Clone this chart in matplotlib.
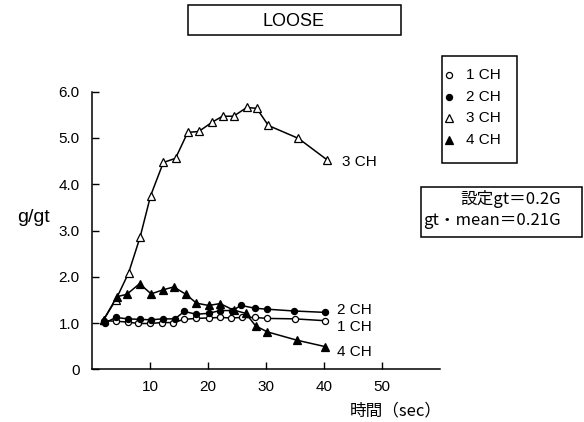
import matplotlib
matplotlib.use("Agg")
import matplotlib.pyplot as plt
from matplotlib.patches import Rectangle

plt.rcParams['font.family'] = ['Liberation Sans', 'Noto Sans CJK JP', 'DejaVu Sans']

# data
t_1ch = [2, 4.1, 6.2, 8.0, 10.0, 12.0, 14.0, 15.9, 18, 20.1, 22.1, 23.9, 25.9, 28.1, 30.2, 35.0, 40.2]
g_1ch = [1.05, 1.04, 1.02, 0.99, 0.99, 1.01, 1.01, 1.08, 1.10, 1.11, 1.12, 1.11, 1.12, 1.12, 1.10, 1.09, 1.05]
t_2ch = [2.2, 4.1, 6.2, 8.2, 10.1, 12.2, 14.3, 15.9, 18, 20.1, 22.1, 24.2, 25.7, 28.1, 30.1, 34.9, 40.2]
g_2ch = [1.0, 1.12, 1.09, 1.08, 1.07, 1.09, 1.09, 1.25, 1.19, 1.21, 1.27, 1.27, 1.38, 1.32, 1.30, 1.26, 1.23]
t_3ch = [2, 4.1, 6.3, 8.3, 10.1, 12.3, 14.4, 16.5, 18.4, 20.7, 22.5, 24.4, 26.7, 28.4, 30.4, 35.6, 40.5]
g_3ch = [1.07, 1.5, 2.08, 2.86, 3.75, 4.47, 4.56, 5.12, 5.14, 5.34, 5.47, 5.47, 5.66, 5.64, 5.27, 4.99, 4.53]
t_4ch = [2, 4.3, 6.0, 8.2, 10.2, 12.3, 14.1, 16.2, 18.0, 20.1, 22.1, 24.4, 26.5, 28.2, 30.2, 35.3, 40.2]
g_4ch = [1.07, 1.57, 1.62, 1.85, 1.63, 1.72, 1.78, 1.62, 1.43, 1.38, 1.42, 1.28, 1.21, 0.94, 0.81, 0.63, 0.49]

series_names = ["1 CH", "2 CH", "3 CH", "4 CH"]
x_ticks = [10, 20, 30, 40, 50]
y_ticks = [0, 1, 2, 3, 4, 5, 6]
y_tick_labels = ["0", "1.0", "2.0", "3.0", "4.0", "5.0", "6.0"]

W, H = 584, 422
fig = plt.figure(figsize=(W / 100, H / 100), dpi=100)
ax = fig.add_axes([92 / W, 1 - 369.3 / H, (440 - 92) / W, (369.3 - 91.7) / H])

lw = 1.1
ax.plot(t_1ch, g_1ch, '-o', color='black', mfc='white', mec='black', ms=4.4, mew=0.9, lw=lw, zorder=3)
ax.plot(t_2ch, g_2ch, '-o', color='black', mfc='black', mec='black', ms=4.4, mew=0.9, lw=lw, zorder=3)
ax.plot(t_3ch, g_3ch, '-^', color='black', mfc='white', mec='black', ms=5.8, mew=0.9, lw=lw, zorder=3)
ax.plot(t_4ch, g_4ch, '-^', color='black', mfc='black', mec='black', ms=5.8, mew=0.9, lw=lw, zorder=3)

ax.set_xlim(0, 60)
ax.set_ylim(0, 6.0)
for s in ['top', 'right']:
    ax.spines[s].set_visible(False)
for s in ['left', 'bottom']:
    ax.spines[s].set_linewidth(1.1)
ax.set_xticks(x_ticks)
ax.set_xticklabels([str(v) for v in x_ticks])
ax.set_yticks(y_ticks)
ax.set_yticklabels(y_tick_labels)
ax.tick_params(direction='in', length=5, width=1.0, labelsize=11, pad=8)
ax.tick_params(axis='y', pad=9)

# end labels
fs_lab = 11
ax.text(43.1, 4.49, "3 CH", fontsize=fs_lab, va='center', ha='left')
ax.text(42.2, 1.28, "2 CH", fontsize=fs_lab, va='center', ha='left')
ax.text(42.2, 0.91, "1 CH", fontsize=fs_lab, va='center', ha='left')
ax.text(42.2, 0.38, "4 CH", fontsize=fs_lab, va='center', ha='left')

def fx(px):
    return px / W

def fy(py):
    return 1 - py / H

cjk = ['Noto Sans CJK JP', 'DejaVu Sans']

# y label / x label
fig.text(fx(34), fy(218), "g/gt", fontsize=14, ha='center', va='center')
fig.text(fx(396), fy(411), "時間（sec）", fontsize=12, ha='center', va='center', family=cjk)

# title box
fig.patches.append(Rectangle((fx(188), fy(35)), fx(401) - fx(188), fy(5) - fy(35),
                             transform=fig.transFigure, fill=False, lw=1.1, ec='black'))
fig.text(fx(294), fy(21), "LOOSE", fontsize=13, ha='center', va='center')

# legend box
fig.patches.append(Rectangle((fx(442), fy(163)), fx(517) - fx(442), fy(56) - fy(163),
                             transform=fig.transFigure, fill=False, lw=1.1, ec='black'))
rows = [75, 96.7, 118.3, 140]
styles = [('o', 'white', 4.4), ('o', 'black', 4.4), ('^', 'white', 5.8), ('^', 'black', 5.8)]
for name, ry, (mk, fc, ms) in zip(series_names, rows, styles):
    fig.lines.append(plt.Line2D([fx(449)], [fy(ry)], marker=mk, mfc=fc, mec='black', ms=ms, mew=0.9,
                                transform=fig.transFigure, ls='none'))
    fig.text(fx(466), fy(ry), name, fontsize=11, ha='left', va='center')

# setting box
fig.patches.append(Rectangle((fx(421), fy(237)), fx(582) - fx(421), fy(187) - fy(237),
                             transform=fig.transFigure, fill=False, lw=1.1, ec='black'))
fig.text(fx(561), fy(199), "設定gt＝0.2G", fontsize=12, ha='right', va='center', family=cjk)
fig.text(fx(561), fy(220), "gt・mean＝0.21G", fontsize=12, ha='right', va='center', family=cjk)

fig.savefig("out.png", dpi=100)
